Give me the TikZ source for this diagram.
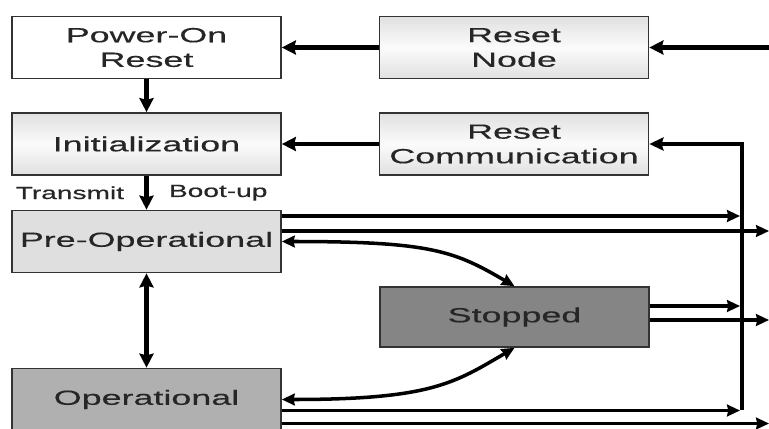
\documentclass[tikz,border=0pt]{standalone}
\usepackage{fontspec}
\newfontfamily\statefont[FakeStretch=1.75,FakeBold=0.3]{Liberation Sans}
\newfontfamily\notefont[FakeStretch=1.6,FakeBold=0.6]{Liberation Sans}
\usetikzlibrary{arrows.meta,calc,positioning}
\tikzset{
  state/.style={draw=black!80,line width=1.4pt,minimum width=8.07cm,
    minimum height=1.86cm,inner sep=0pt,align=center,text=black!85,
    font=\statefont\fontsize{17.5}{21}\selectfont},
  shadedstate/.style={state,top color=gray!24,bottom color=gray!24,middle color=gray!3},
  link/.style={line width=4.2pt,-{Stealth[length=12pt,width=12pt,inset=1.5pt]}},
  twoway/.style={line width=4.2pt,
    {Stealth[length=12pt,width=12pt,inset=1.5pt]}-{Stealth[length=12pt,width=12pt,inset=1.5pt]}},
  curve/.style={line width=3pt,
    {Stealth[length=11pt,width=10pt,inset=1pt]}-{Stealth[length=11pt,width=10pt,inset=1pt]}},
  exit/.style={line width=3pt,-{Stealth[length=11pt,width=10pt,inset=1pt]}},
  busline/.style={line width=3.8pt,-{Stealth[length=12pt,width=11pt,inset=1.5pt]}},
  note/.style={inner sep=0pt,text=black!85,font=\notefont\fontsize{15}{18}\selectfont}
}

\begin{document}
\begin{tikzpicture}[x=0.03cm,y=-0.03cm,line cap=butt,line join=miter]
  \useasboundingbox (0,0) rectangle (769,429);

  % --- States ---
  \node[state,fill=white] (por) at (146.5,47.5) {Power-On\\Reset};
  \node[shadedstate] (init) at (146.5,144) {Initialization};
  \node[state,fill=gray!25] (preop) at (146.5,241.5) {Pre-Operational};
  \node[state,fill=gray!62] (op) at (146.5,399.5) {Operational};

  % --- Reset commands and Stopped ---
  \node[shadedstate] (rnode) at (514,47.5) {Reset\\Node};
  \node[shadedstate] (rcomm) at (514,144) {Reset\\Communication};
  \node[state,fill=gray!96!white,minimum height=1.8cm] (stop) at (514.5,317) {Stopped};

  % --- Bus and picture edge ---
  \coordinate (edge) at (769,0);
  \coordinate (busB) at (742,410);
  \coordinate (busT) at (busB |- rcomm.east);

  % --- Main chain ---
  \draw[link] (edge |- rnode.east) -- (rnode.east);
  \draw[link] (rnode) -- (por);
  \draw[link] (por) -- (init);
  \draw[link] (rcomm) -- (init);
  \draw[link] (init) -- (preop)
    node[midway,left=0.6cm,note] {Transmit}
    node[midway,right=0.6cm,note] {Boot-up};
  \draw[twoway] (preop) -- (op);

  % --- Stopped in and out ---
  \draw[curve] (preop.east) .. controls +(150,0) and +(-60,-35) .. (stop.north);
  \draw[curve] (op.east) .. controls +(150,0) and +(-60,35) .. (stop.south);

  % --- Exits: upper line to the bus, lower line off the edge ---
  \foreach \s/\a/\b in {preop/-25.5/-10.5, stop/-11/3, op/11/24} {
    \draw[exit] ($(\s.east)+(0,\a)$) -- ($(busB |- \s.east)+(-2,\a)$);
    \draw[exit] ($(\s.east)+(0,\b)$) -- ($(edge |- \s.east)+(0,\b)$);
  }
  \draw[busline] (busB) -- (busT) -- (rcomm.east);

\end{tikzpicture}
\end{document}
